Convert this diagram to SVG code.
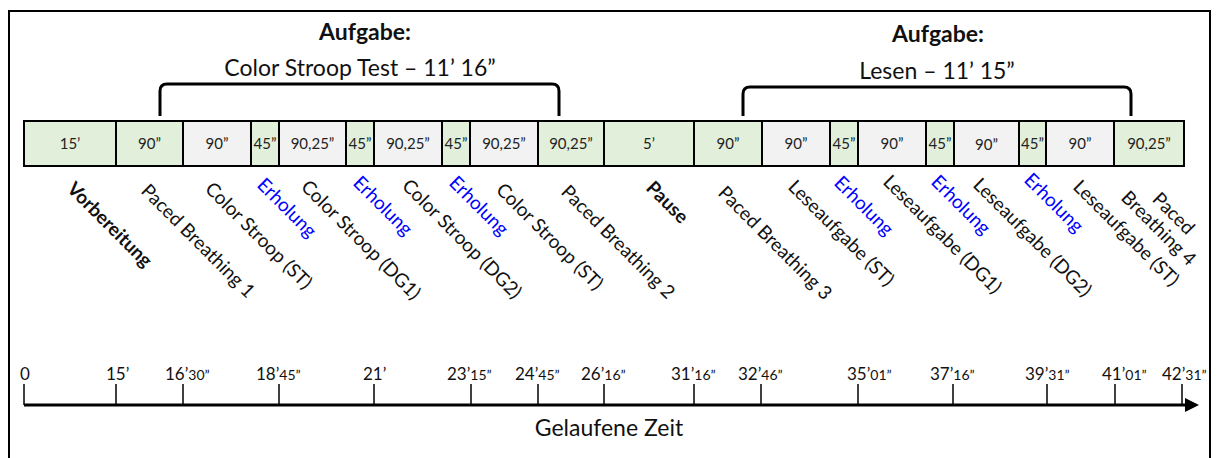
<svg xmlns="http://www.w3.org/2000/svg" width="1218" height="458" viewBox="0 0 1218 458">
  <defs>
    <style>
      text { font-family: Lato, "Liberation Sans", sans-serif; fill: #111; }
      .frame { fill: #fff; stroke: #000; stroke-width: 2; }
      .green { fill: #e2efda; stroke: #000; stroke-width: 2; }
      .grey { fill: #f2f2f2; stroke: #000; stroke-width: 2; }
      .dur { font-size: 15px; text-anchor: middle; fill: #222; }
      .head { font-size: 23px; font-weight: bold; text-anchor: middle; }
      .sub { font-size: 23px; text-anchor: middle; }
      .bracket { fill: none; stroke: #000; stroke-width: 3; stroke-linejoin: round; }
      .lbl { font-size: 19px; }
      .bold { font-weight: bold; }
      .rest { fill: #0000ff; }
      .axis { stroke: #000; stroke-width: 3; }
      .tick { stroke: #000; stroke-width: 1.5; }
      .tl { font-size: 17px; }
      .tl tspan.s { font-size: 14px; }
    </style>
  </defs>

  <rect class="frame" x="9" y="11" width="1201" height="470"/>

  <!-- task headings with brackets -->
  <g id="task-stroop">
    <text class="head" x="365" y="40">Aufgabe:</text>
    <text class="sub" x="360" y="76">Color Stroop Test – 11’ 16”</text>
    <path class="bracket" d="M160,116 L160,91 Q160,84 167,84 L552,84 Q559,84 559,91 L559,116"/>
  </g>
  <g id="task-lesen">
    <text class="head" x="938" y="42">Aufgabe:</text>
    <text class="sub" x="937" y="79">Lesen – 11’ 15”</text>
    <path class="bracket" d="M743,116 L743,94 Q743,87 750,87 L1124,87 Q1131,87 1131,94 L1131,116"/>
  </g>

  <!-- phase boxes -->
  <g id="phases">
    <g id="p01"><rect class="green" x="24" y="121" width="92" height="45"/><text class="dur" x="70" y="149">15’</text></g>
    <g id="p02"><rect class="green" x="116" y="121" width="67" height="45"/><text class="dur" x="149.5" y="149">90”</text></g>
    <g id="p03"><rect class="grey" x="183" y="121" width="68" height="45"/><text class="dur" x="217" y="149">90”</text></g>
    <g id="p04"><rect class="green" x="251" y="121" width="28" height="45"/><text class="dur" x="265" y="149">45”</text></g>
    <g id="p05"><rect class="grey" x="279" y="121" width="67" height="45"/><text class="dur" x="312.5" y="149">90,25”</text></g>
    <g id="p06"><rect class="green" x="346" y="121" width="28" height="45"/><text class="dur" x="360" y="149">45”</text></g>
    <g id="p07"><rect class="grey" x="374" y="121" width="68" height="45"/><text class="dur" x="408" y="149">90,25”</text></g>
    <g id="p08"><rect class="green" x="442" y="121" width="28" height="45"/><text class="dur" x="456" y="149">45”</text></g>
    <g id="p09"><rect class="grey" x="470" y="121" width="68" height="45"/><text class="dur" x="504" y="149">90,25”</text></g>
    <g id="p10"><rect class="green" x="538" y="121" width="66" height="45"/><text class="dur" x="571" y="149">90,25”</text></g>
    <g id="p11"><rect class="green" x="604" y="121" width="90" height="45"/><text class="dur" x="649" y="149">5’</text></g>
    <g id="p12"><rect class="green" x="694" y="121" width="68" height="45"/><text class="dur" x="728" y="149">90”</text></g>
    <g id="p13"><rect class="grey" x="762" y="121" width="68" height="45"/><text class="dur" x="796" y="149">90”</text></g>
    <g id="p14"><rect class="green" x="830" y="121" width="28" height="45"/><text class="dur" x="844" y="149">45”</text></g>
    <g id="p15"><rect class="grey" x="858" y="121" width="68" height="45"/><text class="dur" x="892" y="149">90”</text></g>
    <g id="p16"><rect class="green" x="926" y="121" width="28" height="45"/><text class="dur" x="940" y="149">45”</text></g>
    <g id="p17"><rect class="grey" x="954" y="121" width="65" height="45"/><text class="dur" x="986.5" y="150">90”</text></g>
    <g id="p18"><rect class="green" x="1019" y="121" width="27" height="45"/><text class="dur" x="1032.5" y="149">45”</text></g>
    <g id="p19"><rect class="grey" x="1046" y="121" width="68" height="45"/><text class="dur" x="1080" y="149">90”</text></g>
    <g id="p20"><rect class="green" x="1114" y="121" width="70" height="45"/><text class="dur" x="1149" y="149">90,25”</text></g>
  </g>

  <!-- slanted phase names -->
  <g id="phase-names" class="lbl">
    <text class="lbl bold" transform="translate(66,190) rotate(45)">Vorbereitung</text>
    <text class="lbl" transform="translate(140,192) rotate(45)">Paced Breathing 1</text>
    <text class="lbl" transform="translate(204,190) rotate(45)">Color Stroop (ST)</text>
    <text class="lbl rest" transform="translate(256,186) rotate(45)">Erholung</text>
    <text class="lbl" transform="translate(300,188) rotate(45)">Color Stroop (DG1)</text>
    <text class="lbl rest" transform="translate(352,184) rotate(45)">Erholung</text>
    <text class="lbl" transform="translate(401,187) rotate(45)">Color Stroop (DG2)</text>
    <text class="lbl rest" transform="translate(448,184) rotate(45)">Erholung</text>
    <text class="lbl" transform="translate(495,191) rotate(45)">Color Stroop (ST)</text>
    <text class="lbl" transform="translate(560,193) rotate(45)">Paced Breathing 2</text>
    <text class="lbl bold" transform="translate(645,189) rotate(45)">Pause</text>
    <text class="lbl" transform="translate(717,194) rotate(45)">Paced Breathing 3</text>
    <text class="lbl" transform="translate(787,188) rotate(45)">Leseaufgabe (ST)</text>
    <text class="lbl rest" transform="translate(833,184) rotate(45)">Erholung</text>
    <text class="lbl" transform="translate(882,183) rotate(45)">Leseaufgabe (DG1)</text>
    <text class="lbl rest" transform="translate(930,183) rotate(45)">Erholung</text>
    <text class="lbl" transform="translate(972,186) rotate(45)">Leseaufgabe (DG2)</text>
    <text class="lbl rest" transform="translate(1023,181) rotate(45)">Erholung</text>
    <text class="lbl" transform="translate(1072,188) rotate(45)">Leseaufgabe (ST)</text>
    <text class="lbl" text-anchor="middle" transform="translate(1169,218) rotate(45)"><tspan x="0" y="0">Paced</tspan><tspan x="0" y="21">Breathing 4</tspan></text>
  </g>

  <!-- time axis -->
  <g id="connectors">
    <line class="axis" x1="24" y1="405" x2="1188" y2="405"/>
    <polygon points="1185,398 1199,405 1185,412" fill="#000"/>
    <line class="tick" x1="24" y1="384" x2="24" y2="405"/>
    <line class="tick" x1="116" y1="384" x2="116" y2="405"/>
    <line class="tick" x1="183" y1="384" x2="183" y2="405"/>
    <line class="tick" x1="279" y1="384" x2="279" y2="405"/>
    <line class="tick" x1="374" y1="384" x2="374" y2="405"/>
    <line class="tick" x1="471" y1="384" x2="471" y2="405"/>
    <line class="tick" x1="538" y1="384" x2="538" y2="405"/>
    <line class="tick" x1="604" y1="384" x2="604" y2="405"/>
    <line class="tick" x1="694" y1="384" x2="694" y2="405"/>
    <line class="tick" x1="761" y1="384" x2="761" y2="405"/>
    <line class="tick" x1="858" y1="384" x2="858" y2="405"/>
    <line class="tick" x1="953" y1="384" x2="953" y2="405"/>
    <line class="tick" x1="1047" y1="384" x2="1047" y2="405"/>
    <line class="tick" x1="1115" y1="384" x2="1115" y2="405"/>
    <line class="tick" x1="1182" y1="384" x2="1182" y2="405"/>
  </g>

  <g id="time-labels" class="tl">
    <text class="tl" x="20" y="380">0</text>
    <text class="tl" x="106" y="380">15’</text>
    <text class="tl" x="165" y="380">16’<tspan class="s">30”</tspan></text>
    <text class="tl" x="256" y="380">18’<tspan class="s">45”</tspan></text>
    <text class="tl" x="363" y="380">21’</text>
    <text class="tl" x="447" y="380">23’<tspan class="s">15”</tspan></text>
    <text class="tl" x="515" y="380">24’<tspan class="s">45”</tspan></text>
    <text class="tl" x="581" y="380">26’<tspan class="s">16”</tspan></text>
    <text class="tl" x="671" y="380">31’<tspan class="s">16”</tspan></text>
    <text class="tl" x="738" y="380">32’<tspan class="s">46”</tspan></text>
    <text class="tl" x="847" y="380">35’<tspan class="s">01”</tspan></text>
    <text class="tl" x="930" y="380">37’<tspan class="s">16”</tspan></text>
    <text class="tl" x="1025" y="380">39’<tspan class="s">31”</tspan></text>
    <text class="tl" x="1102" y="380">41’<tspan class="s">01”</tspan></text>
    <text class="tl" x="1162" y="380">42’<tspan class="s">31”</tspan></text>
  </g>

  <text id="axis-title" x="609" y="436" font-size="23" text-anchor="middle">Gelaufene Zeit</text>
</svg>
